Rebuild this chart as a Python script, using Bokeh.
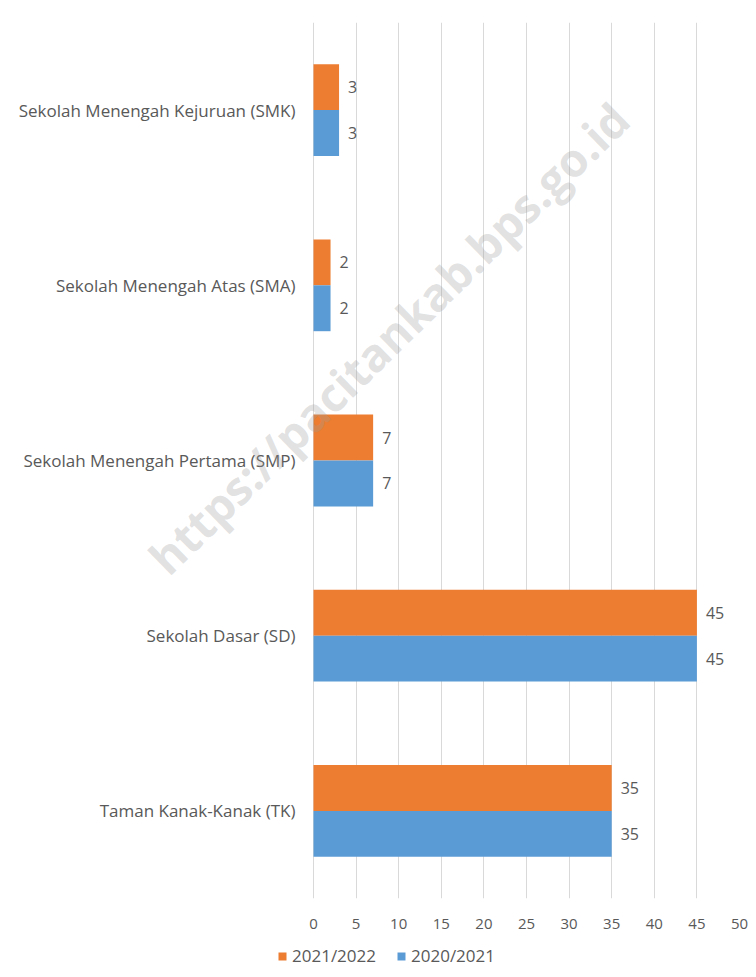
from bokeh.plotting import figure
from bokeh.layouts import column
from bokeh.models import (FactorRange, Range1d, FixedTicker, ColumnDataSource,
                          Legend, LegendItem, Label, LabelSet)
from bokeh.core.properties import value
from bokeh.transform import dodge
from bokeh.embed import file_html
from bokeh.resources import INLINE

# ---- data ----
categories = ["Taman Kanak-Kanak (TK)", "Sekolah Dasar (SD)",
              "Sekolah Menengah Pertama (SMP)", "Sekolah Menengah Atas (SMA)",
              "Sekolah Menengah Kejuruan (SMK)"]
series_2021 = [35, 45, 7, 2, 3]   # 2021/2022
series_2020 = [35, 45, 7, 2, 3]   # 2020/2021
x_ticks = [0, 5, 10, 15, 20, 25, 30, 35, 40, 45, 50]
legend_labels = ["2021/2022", "2020/2021"]
watermark = "https://pacitankab.bps.go.id"

ORANGE = "#ED7D31"
BLUE = "#5B9BD5"
TXT = "#595959"
FONT = "Open Sans"

W, H = 756, 940
LEFT, RIGHT, TOP, BOTTOM = 10, 17, 22, 42
X0_PX = 313                      # pixel where value 0 sits
ppu = (W - RIGHT - X0_PX) / 50.0
x_start = -(X0_PX - LEFT) / ppu

src = ColumnDataSource(dict(cat=categories, v21=series_2021, v20=series_2020,
                            l21=[str(v) for v in series_2021],
                            l20=[str(v) for v in series_2020],
                            zero=[0] * len(categories)))

p = figure(width=W, height=H, output_backend="svg", toolbar_location=None,
           y_range=FactorRange(*categories, range_padding=0),
           x_range=Range1d(x_start, 50),
           min_border_left=LEFT, min_border_right=RIGHT, min_border_top=TOP,
           min_border_bottom=BOTTOM)
p.outline_line_color = None
p.background_fill_color = "white"
p.border_fill_color = "white"

bh = 0.262
r21 = p.hbar(y=dodge("cat", bh / 2, range=p.y_range), right="v21", left=0,
             height=bh, source=src, fill_color=ORANGE, line_color=None)
r20 = p.hbar(y=dodge("cat", -bh / 2, range=p.y_range), right="v20", left=0,
             height=bh, source=src, fill_color=BLUE, line_color=None)

lab_style = dict(text_font_size="16px", text_color=TXT, text_baseline="middle",
                 text_align="left", x_offset=9, text_font=value(FONT))
p.add_layout(LabelSet(x="v21", y=dodge("cat", bh / 2, range=p.y_range), text="l21",
                      source=src, **lab_style))
p.add_layout(LabelSet(x="v20", y=dodge("cat", -bh / 2, range=p.y_range), text="l20",
                      source=src, **lab_style))

# category labels (drawn at the category positions, left of zero)
p.add_layout(LabelSet(x="zero", y="cat", text="cat", source=src, x_offset=-18,
                      text_align="right", text_baseline="middle",
                      text_font_size="17px", text_color=TXT,
                      text_font=value(FONT)))

# axes
p.xaxis.ticker = FixedTicker(ticks=x_ticks)
p.xaxis.axis_line_color = None
p.xaxis.major_tick_line_color = None
p.xaxis.minor_tick_line_color = None
p.xaxis.major_label_text_font_size = "15px"
p.xaxis.major_label_text_color = TXT
p.xaxis.major_label_text_font = FONT
p.xaxis.major_label_standoff = 14
p.yaxis.visible = False

p.xgrid.grid_line_color = "#D9D9D9"
p.xgrid.grid_line_width = 1
p.ygrid.grid_line_color = None

wm = Label(x=8.8, y=3.2, text=watermark, angle=44.4, angle_units="deg",
           text_align="center", text_baseline="middle", text_font=FONT,
           text_font_style="bold", text_font_size="46px",
           text_color="#9a9a9a", text_alpha=0.3)
p.add_layout(wm)

# legend strip (its swatch renderers sit outside the visible range)
lg = figure(width=W, height=37, output_backend="svg", toolbar_location=None,
            x_range=Range1d(0, 1), y_range=Range1d(0, 1),
            min_border_left=0, min_border_right=0, min_border_top=0,
            min_border_bottom=0)
lg.axis.visible = False
lg.grid.visible = False
lg.outline_line_color = None
lsrc = ColumnDataSource(dict(y=[-10], r=[0.5]))
g21 = lg.hbar(y="y", right="r", height=0.1, source=lsrc, fill_color=ORANGE,
              line_color=None)
g20 = lg.hbar(y="y", right="r", height=0.1, source=lsrc, fill_color=BLUE,
              line_color=None)
legend = Legend(items=[LegendItem(label=legend_labels[0], renderers=[g21]),
                       LegendItem(label=legend_labels[1], renderers=[g20])],
                orientation="horizontal", location=(267, 10),
                glyph_width=10, glyph_height=10, label_standoff=5, spacing=20,
                padding=0, margin=0, border_line_color=None,
                background_fill_alpha=0,
                label_text_font_size="17px", label_text_color=TXT,
                label_text_font=FONT)
lg.add_layout(legend, "center")

open("out.html", "w").write(file_html(column(p, lg, spacing=0), INLINE))
